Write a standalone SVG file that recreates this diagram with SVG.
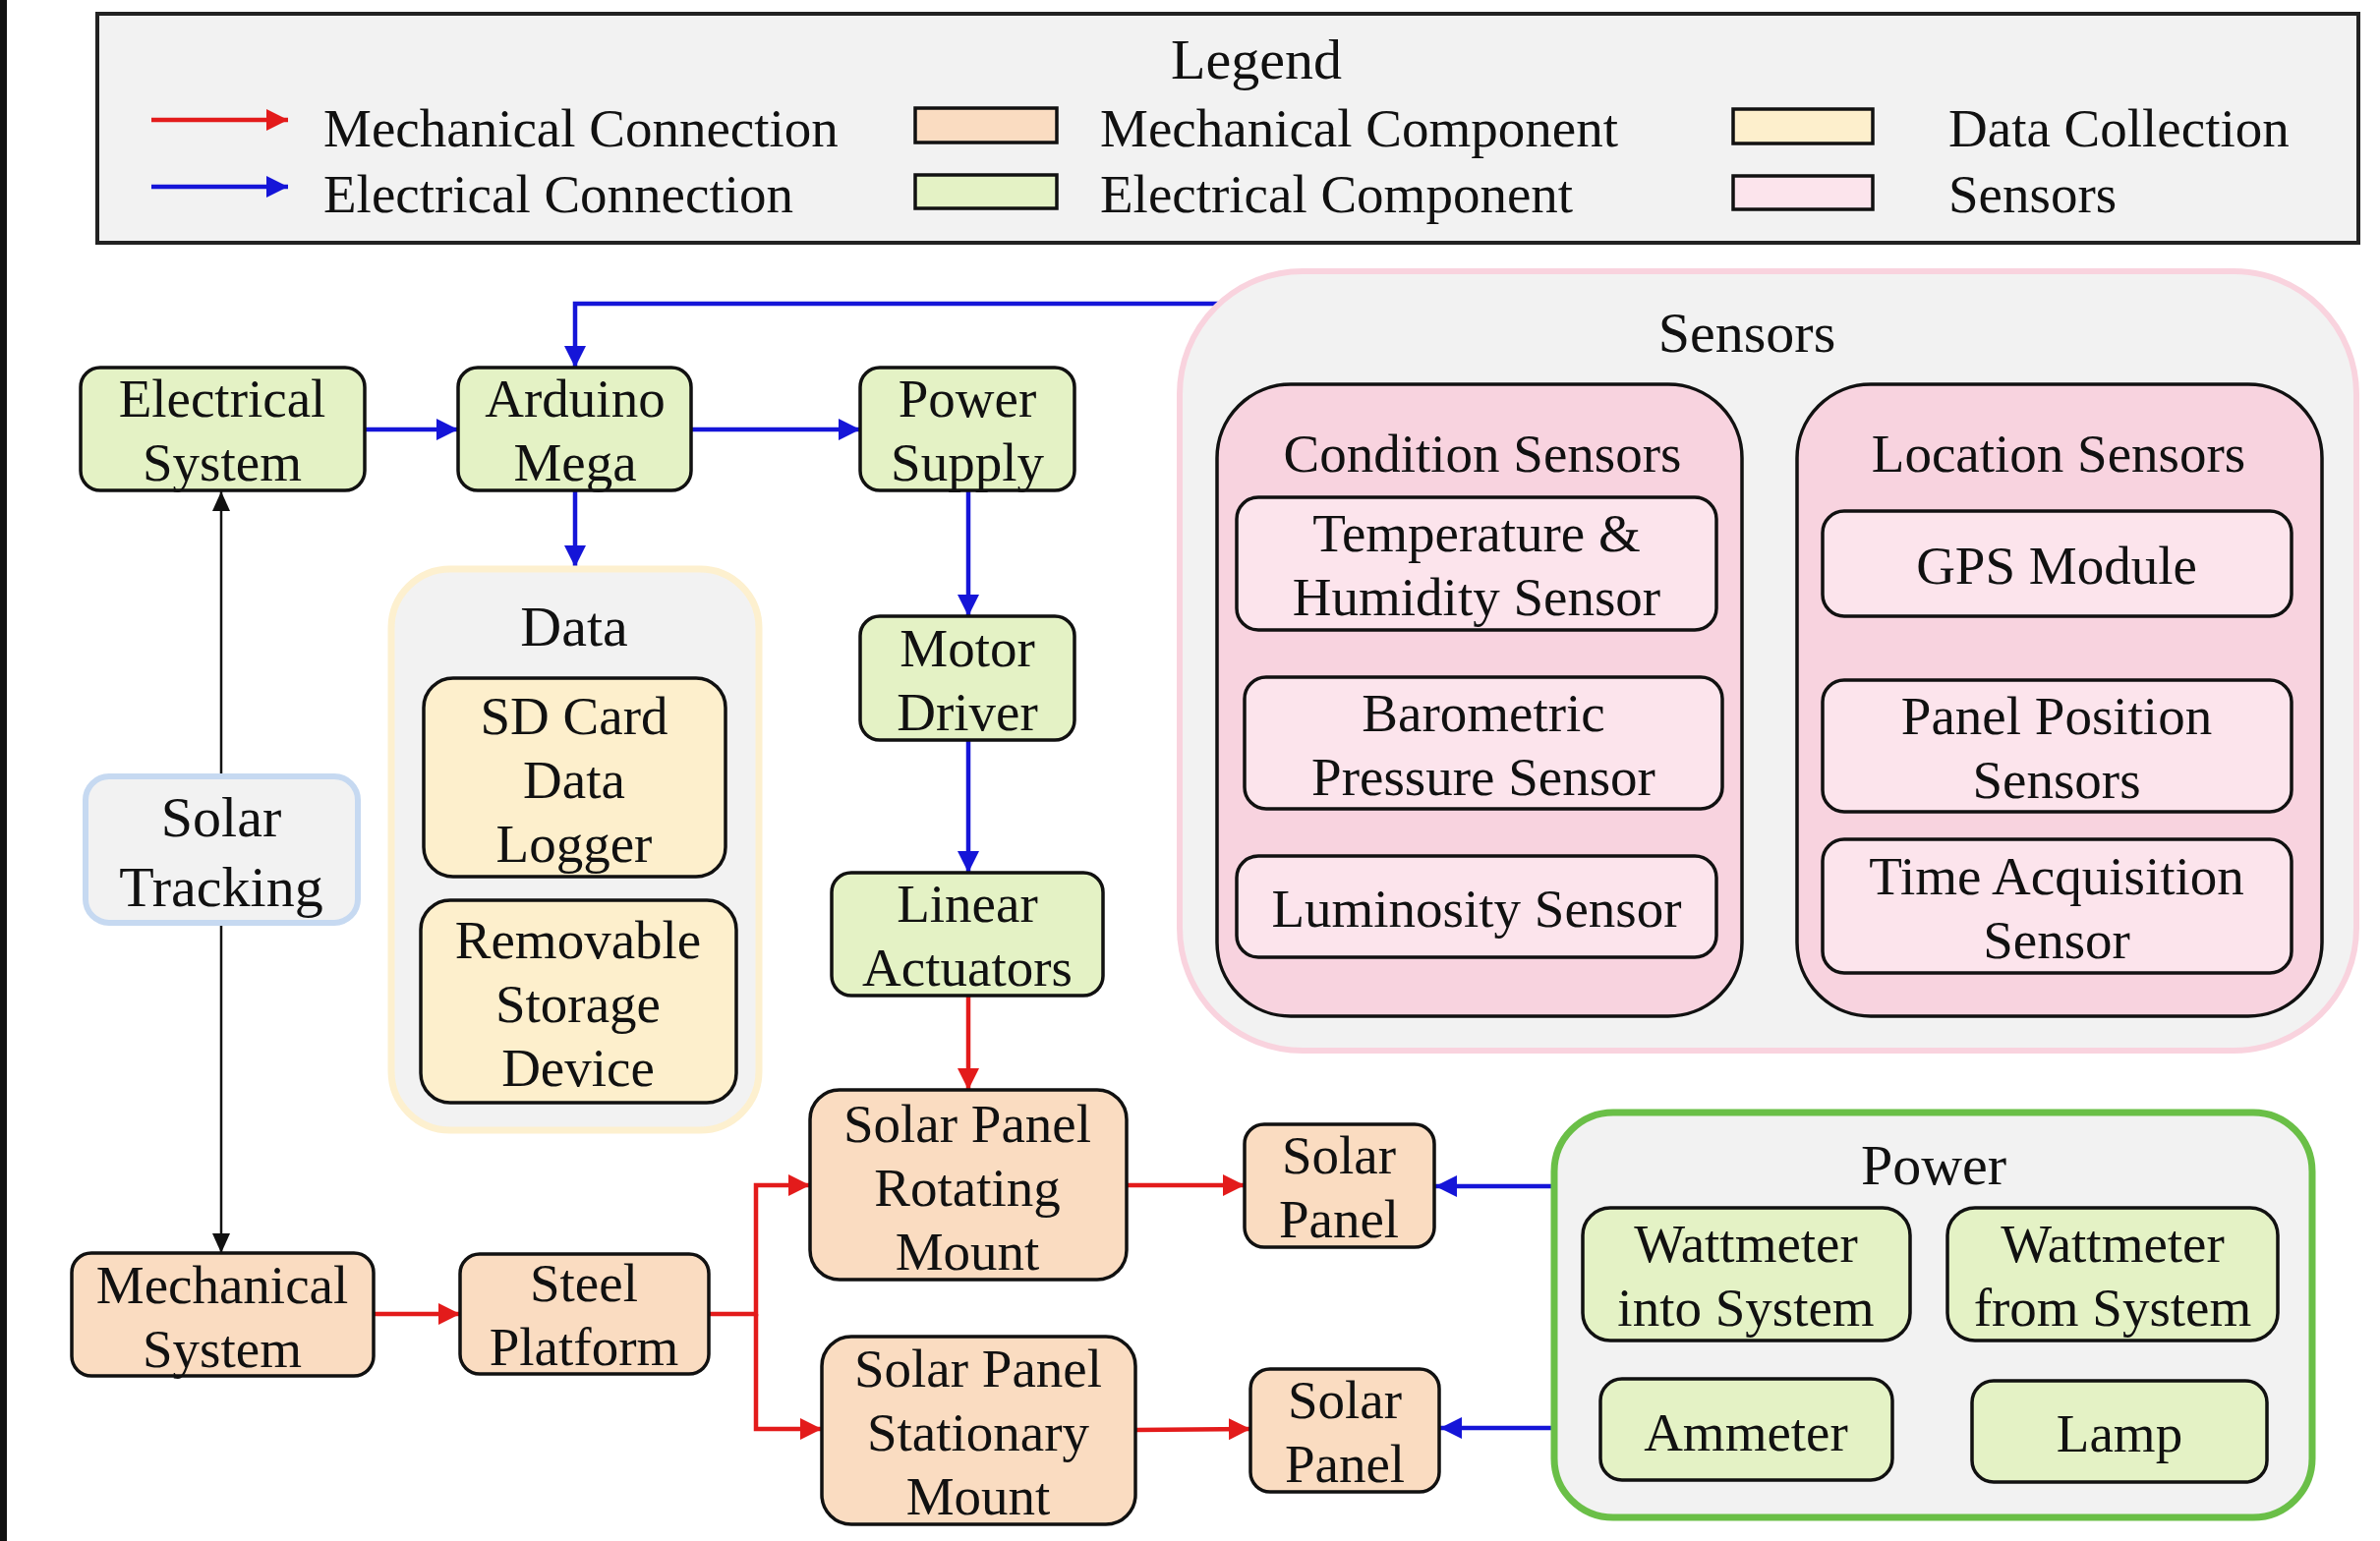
<svg xmlns="http://www.w3.org/2000/svg" width="2421" height="1568" viewBox="0 0 2421 1568">
<style>
text{font-family:"Liberation Serif","Times New Roman",serif;fill:#111;text-anchor:middle;font-size:55px;transform:translate(0px,3px)}
.lt{text-anchor:start}
.hd{font-size:58px}
.box{stroke:#111;stroke-width:3.5}
.el{fill:#e4f2c5}
.me{fill:#fadcc1}
.da{fill:#fdefcc}
.se{fill:#fce4ec}
.sc{fill:#f8d3df}
.red{stroke:#e31b1b;stroke-width:4.5;fill:none}
.blue{stroke:#1515d8;stroke-width:4.5;fill:none}
.blk{stroke:#111;stroke-width:2.5;fill:none}
</style>
<defs>
<marker id="ar" markerUnits="userSpaceOnUse" markerWidth="24" markerHeight="22" refX="22" refY="11" orient="auto"><path d="M0,0 L22,11 L0,22 z" fill="#e31b1b"/></marker>
<marker id="ab" markerUnits="userSpaceOnUse" markerWidth="24" markerHeight="22" refX="22" refY="11" orient="auto"><path d="M0,0 L22,11 L0,22 z" fill="#1515d8"/></marker>
<marker id="ak" markerUnits="userSpaceOnUse" markerWidth="22" markerHeight="18" refX="20" refY="9" orient="auto"><path d="M0,0 L20,9 L0,18 z" fill="#111"/></marker>
</defs>
<rect x="0" y="0" width="2421" height="1568" fill="#fff"/>
<rect x="0" y="0" width="7" height="1568" fill="#111"/>

<g id="legend">
<rect x="99" y="14" width="2300" height="233" fill="#f2f2f2" stroke="#222" stroke-width="4"/>
<text x="1278" y="77" class="hd">Legend</text>
<line x1="154" y1="122" x2="293" y2="122" class="red" marker-end="url(#ar)"/>
<line x1="154" y1="190" x2="293" y2="190" class="blue" marker-end="url(#ab)"/>
<text x="329" y="146" class="lt">Mechanical Connection</text>
<text x="329" y="213" class="lt">Electrical Connection</text>
<rect x="931" y="110" width="144" height="35" class="box me"/>
<rect x="931" y="178" width="144" height="34" class="box el"/>
<text x="1119" y="146" class="lt">Mechanical Component</text>
<text x="1119" y="213" class="lt">Electrical Component</text>
<rect x="1763" y="111" width="142" height="35" class="box da"/>
<rect x="1763" y="179" width="142" height="34" class="box se"/>
<text x="1982" y="146" class="lt">Data Collection</text>
<text x="1982" y="213" class="lt">Sensors</text>
</g>

<g id="connectors">
<polyline points="1245,309 585,309 585,374" class="blue" marker-end="url(#ab)"/>
<line x1="371" y1="437" x2="466" y2="437" class="blue" marker-end="url(#ab)"/>
<line x1="703" y1="437" x2="875" y2="437" class="blue" marker-end="url(#ab)"/>
<line x1="585" y1="499" x2="585" y2="577" class="blue" marker-end="url(#ab)"/>
<line x1="985" y1="499" x2="985" y2="627" class="blue" marker-end="url(#ab)"/>
<line x1="985" y1="753" x2="985" y2="888" class="blue" marker-end="url(#ab)"/>
<line x1="985" y1="1013" x2="985" y2="1109" class="red" marker-end="url(#ar)"/>
<line x1="225" y1="789" x2="225" y2="500" class="blk" marker-end="url(#ak)"/>
<line x1="225" y1="939" x2="225" y2="1275" class="blk" marker-end="url(#ak)"/>
<line x1="380" y1="1337" x2="468" y2="1337" class="red" marker-end="url(#ar)"/>
<polyline points="721,1337 769,1337 769,1206 824,1206" class="red" marker-end="url(#ar)"/>
<polyline points="769,1337 769,1454 836,1454" class="red" marker-end="url(#ar)"/>
<line x1="1146" y1="1206" x2="1266" y2="1206" class="red" marker-end="url(#ar)"/>
<line x1="1155" y1="1455" x2="1272" y2="1454" class="red" marker-end="url(#ar)"/>
<line x1="1580" y1="1207" x2="1460" y2="1207" class="blue" marker-end="url(#ab)"/>
<line x1="1580" y1="1453" x2="1465" y2="1453" class="blue" marker-end="url(#ab)"/>
</g>

<g id="sensors">
<rect x="1200" y="276" width="1197" height="793" rx="125" fill="#f2f2f2" stroke="#f9d3de" stroke-width="6"/>
<text x="1777" y="355" class="hd">Sensors</text>
</g>
<g id="condition-sensors">
<rect x="1238" y="391" width="534" height="643" rx="75" class="box sc"/>
<text x="1508" y="477">Condition Sensors</text>
</g>
<g id="temp-humidity">
<rect x="1258" y="506" width="488" height="135" rx="22" class="box se"/>
<text x="1502" y="558">Temperature &amp;</text>
<text x="1502" y="623">Humidity Sensor</text>
</g>
<g id="barometric">
<rect x="1266" y="689" width="486" height="134" rx="22" class="box se"/>
<text x="1509" y="741">Barometric</text>
<text x="1509" y="806">Pressure Sensor</text>
</g>
<g id="luminosity">
<rect x="1258" y="871" width="488" height="103" rx="22" class="box se"/>
<text x="1502" y="940">Luminosity Sensor</text>
</g>
<g id="location-sensors">
<rect x="1828" y="391" width="534" height="643" rx="75" class="box sc"/>
<text x="2094" y="477">Location Sensors</text>
</g>
<g id="gps">
<rect x="1854" y="520" width="477" height="107" rx="22" class="box se"/>
<text x="2092" y="591">GPS Module</text>
</g>
<g id="panel-position">
<rect x="1854" y="692" width="477" height="134" rx="22" class="box se"/>
<text x="2092" y="744">Panel Position</text>
<text x="2092" y="809">Sensors</text>
</g>
<g id="time-acquisition">
<rect x="1854" y="854" width="477" height="136" rx="22" class="box se"/>
<text x="2092" y="907">Time Acquisition</text>
<text x="2092" y="972">Sensor</text>
</g>

<g id="electrical-system">
<rect x="82" y="374" width="289" height="125" rx="20" class="box el"/>
<text x="226" y="421">Electrical</text>
<text x="226" y="486">System</text>
</g>
<g id="arduino-mega">
<rect x="466" y="374" width="237" height="125" rx="20" class="box el"/>
<text x="585" y="421">Arduino</text>
<text x="585" y="486">Mega</text>
</g>
<g id="power-supply">
<rect x="875" y="374" width="218" height="125" rx="20" class="box el"/>
<text x="984" y="421">Power</text>
<text x="984" y="486">Supply</text>
</g>
<g id="motor-driver">
<rect x="875" y="627" width="218" height="126" rx="20" class="box el"/>
<text x="984" y="675">Motor</text>
<text x="984" y="740">Driver</text>
</g>
<g id="linear-actuators">
<rect x="846" y="888" width="276" height="125" rx="20" class="box el"/>
<text x="984" y="935">Linear</text>
<text x="984" y="1000">Actuators</text>
</g>

<g id="data">
<rect x="398" y="579" width="374" height="571" rx="60" fill="#f2f2f2" stroke="#fdf0cf" stroke-width="7"/>
<text x="584" y="654" class="hd">Data</text>
</g>
<g id="sd-card">
<rect x="431" y="690" width="307" height="202" rx="30" class="box da"/>
<text x="584" y="744">SD Card</text>
<text x="584" y="809">Data</text>
<text x="584" y="874">Logger</text>
</g>
<g id="removable-storage">
<rect x="428" y="916" width="321" height="206" rx="30" class="box da"/>
<text x="588" y="972">Removable</text>
<text x="588" y="1037">Storage</text>
<text x="588" y="1102">Device</text>
</g>

<g id="solar-tracking">
<rect x="87" y="790" width="277" height="149" rx="24" fill="#f2f2f2" stroke="#c6d9f1" stroke-width="6"/>
<text x="225" y="848" style="font-size:58px">Solar</text>
<text x="225" y="919" style="font-size:58px">Tracking</text>
</g>

<g id="mechanical-system">
<rect x="73" y="1275" width="307" height="125" rx="20" class="box me"/>
<text x="226" y="1323">Mechanical</text>
<text x="226" y="1388">System</text>
</g>
<g id="steel-platform">
<rect x="468" y="1276" width="253" height="122" rx="20" class="box me"/>
<text x="594" y="1321">Steel</text>
<text x="594" y="1386">Platform</text>
</g>
<g id="rotating-mount">
<rect x="824" y="1109" width="322" height="193" rx="30" class="box me"/>
<text x="984" y="1159">Solar Panel</text>
<text x="984" y="1224">Rotating</text>
<text x="984" y="1289">Mount</text>
</g>
<g id="stationary-mount">
<rect x="836" y="1360" width="319" height="191" rx="30" class="box me"/>
<text x="995" y="1408">Solar Panel</text>
<text x="995" y="1473">Stationary</text>
<text x="995" y="1538">Mount</text>
</g>
<g id="solar-panel-1">
<rect x="1266" y="1144" width="193" height="125" rx="20" class="box me"/>
<text x="1362" y="1191">Solar</text>
<text x="1362" y="1256">Panel</text>
</g>
<g id="solar-panel-2">
<rect x="1272" y="1393" width="192" height="125" rx="20" class="box me"/>
<text x="1368" y="1440">Solar</text>
<text x="1368" y="1505">Panel</text>
</g>

<g id="power">
<rect x="1581" y="1132" width="771" height="412" rx="60" fill="#f2f2f2" stroke="#6abf47" stroke-width="7"/>
<text x="1967" y="1202" class="hd">Power</text>
</g>
<g id="wattmeter-into">
<rect x="1610" y="1229" width="333" height="135" rx="28" class="box el"/>
<text x="1776" y="1281">Wattmeter</text>
<text x="1776" y="1346">into System</text>
</g>
<g id="wattmeter-from">
<rect x="1981" y="1229" width="336" height="135" rx="28" class="box el"/>
<text x="2149" y="1281">Wattmeter</text>
<text x="2149" y="1346">from System</text>
</g>
<g id="ammeter">
<rect x="1628" y="1403" width="297" height="103" rx="22" class="box el"/>
<text x="1776" y="1473">Ammeter</text>
</g>
<g id="lamp">
<rect x="2006" y="1405" width="300" height="103" rx="22" class="box el"/>
<text x="2156" y="1474">Lamp</text>
</g>
</svg>
